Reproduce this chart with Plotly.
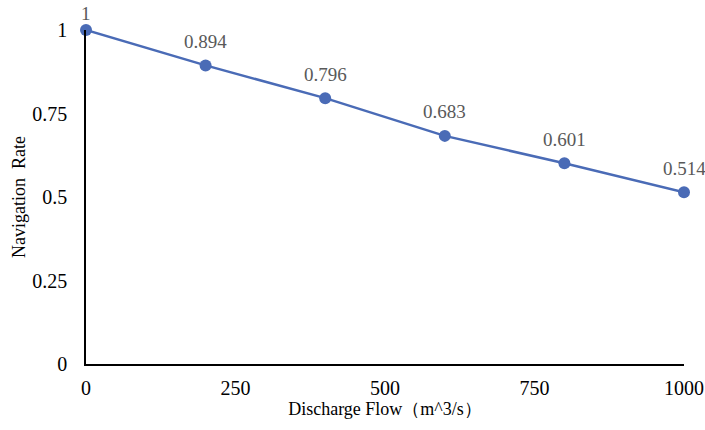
import plotly.graph_objects as go

flow = [0, 200, 400, 600, 800, 1000]
rate = [1, 0.894, 0.796, 0.683, 0.601, 0.514]
labels = ["1", "0.894", "0.796", "0.683", "0.601", "0.514"]
x_ticks = [0, 250, 500, 750, 1000]
y_ticks = [0, 0.25, 0.5, 0.75, 1]
y_tick_text = ["0", "0.25", "0.5", "0.75", "1"]

font = "Liberation Serif, Times New Roman, serif"
blue = "#4a6bb6"
fig = go.Figure()
fig.add_trace(go.Scatter(
    x=flow, y=rate, mode="lines+markers",
    line=dict(color=blue, width=2.5),
    marker=dict(color=blue, size=12),
    cliponaxis=False, showlegend=False,
))
top = max(rate)
for xv, yv, lab in zip(flow, rate, labels):
    fig.add_annotation(
        x=xv, y=yv, text=lab, showarrow=False, yanchor="middle",
        yshift=17 if yv == top else 24,
        font=dict(family=font, size=19, color="#595959"),
    )
fig.update_layout(
    width=705, height=430,
    margin=dict(l=86, r=21, t=30, b=66),
    paper_bgcolor="white", plot_bgcolor="white",
    font=dict(family=font, size=20, color="black"),
)
fig.update_xaxes(
    range=[0, 1000], tickvals=x_ticks, showgrid=False, zeroline=False,
    showline=True, linecolor="black", linewidth=1.5, ticks="",
    ticklabelstandoff=5, automargin=False,
    title=dict(text="Discharge Flow（m^3/s）", font=dict(size=18), standoff=4),
)
fig.update_yaxes(
    range=[0, 1], tickvals=y_ticks, ticktext=y_tick_text, showgrid=False, zeroline=False,
    showline=True, linecolor="black", linewidth=1.5, ticks="",
    ticklabelstandoff=13, automargin=False,
    title=dict(text="Navigation  Rate", font=dict(size=18), standoff=2),
)
fig.write_html("out.html")
